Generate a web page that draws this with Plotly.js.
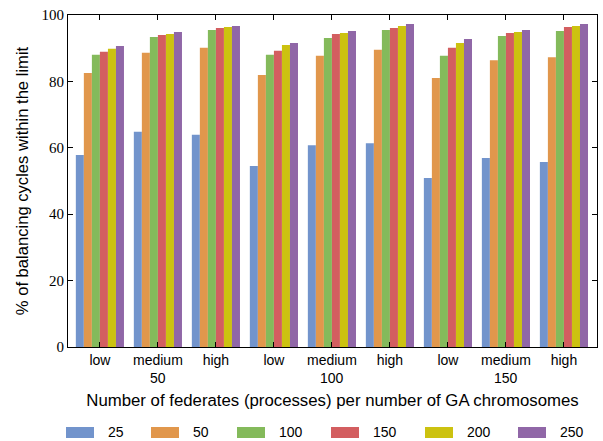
<!DOCTYPE html>
<html>
<head>
<meta charset="utf-8">
<script src="https://cdn.plot.ly/plotly-3.0.1.min.js"></script>
<style>html,body{margin:0;padding:0;background:#fff;}#chart{width:603px;height:441px;}</style>
</head>
<body>
<div id="chart"></div>
<script>
// ---- data ----
const levels = ['low', 'medium', 'high'];
const federates = ['50', '100', '150'];
const seriesNames = ['25', '50', '100', '150', '200', '250'];
const s25  = [57.8, 64.8, 63.9, 54.5, 60.8, 61.4, 50.9, 56.9, 55.7];
const s50  = [82.5, 88.6, 90.1, 81.9, 87.7, 89.5, 81.0, 86.4, 87.3];
const s100 = [88.0, 93.4, 95.5, 88.0, 93.1, 95.5, 87.7, 93.7, 95.2];
const s150 = [88.9, 94.0, 96.1, 89.2, 94.3, 96.1, 90.1, 94.6, 96.4];
const s200 = [89.8, 94.3, 96.4, 91.0, 94.6, 96.7, 91.6, 94.9, 96.7];
const s250 = [90.7, 94.9, 96.7, 91.6, 95.2, 97.3, 92.8, 95.5, 97.3];
const yTicks = [0, 20, 40, 60, 80, 100];

// ---- styles ----
const colors = ['#7294cc', '#e1974c', '#84ba5b', '#d35e60', '#ccc210', '#9067a7'];
const allSeries = [s25, s50, s100, s150, s200, s250];

const categories = [];
const tickText = [];
federates.forEach(f => levels.forEach(l => { categories.push(f + ' ' + l); tickText.push(l); }));

const traces = allSeries.map((vals, i) => ({
  type: 'bar',
  x: categories,
  y: vals,
  name: seriesNames[i],
  marker: {color: colors[i], line: {width: 0}},
  showlegend: false
}));

const sansFont = 'Liberation Sans, Arial, sans-serif';
const serifFont = 'Liberation Serif, Times New Roman, serif';

const annotations = federates.map((f, i) => ({
  x: categories[i * 3 + 1], xref: 'x', y: 0, yref: 'paper',
  yanchor: 'top', xanchor: 'center', yshift: -21,
  text: f, showarrow: false,
  font: {family: sansFont, size: 14, color: '#000'}
}));

// custom legend (wide swatches)
const legX = [66, 151, 237, 331, 425, 518];
const shapes = [];
seriesNames.forEach((n, i) => {
  shapes.push({type: 'rect', xref: 'paper', yref: 'paper',
    x0: (legX[i] - 68) / 529, x1: (legX[i] + 28 - 68) / 529,
    y0: (347 - 438) / 332, y1: (347 - 427) / 332,
    fillcolor: colors[i], line: {width: 0}});
  annotations.push({xref: 'paper', yref: 'paper',
    x: (legX[i] + 40 - 68) / 529, y: (347 - 432.5) / 332,
    xanchor: 'left', yanchor: 'middle', text: n, showarrow: false,
    font: {family: sansFont, size: 14, color: '#000'}});
});

const layout = {
  width: 603, height: 441,
  margin: {l: 68, r: 6, t: 15, b: 94},
  paper_bgcolor: '#fff', plot_bgcolor: '#fff',
  barmode: 'group', bargap: 0.17, bargroupgap: 0,
  showlegend: false,
  xaxis: {
    type: 'category', range: [-0.55, 8.57],
    tickvals: categories, ticktext: tickText,
    ticks: 'inside', ticklen: 5, tickcolor: '#000', tickwidth: 1,
    showline: true, linecolor: '#000', linewidth: 1, mirror: 'ticks',
    showgrid: false, zeroline: false,
    tickfont: {family: sansFont, size: 14, color: '#000'},
    title: {text: 'Number of federates (processes) per number of GA chromosomes',
      font: {family: sansFont, size: 16.8, color: '#000'}, standoff: 27}
  },
  yaxis: {
    range: [0, 100], tickvals: yTicks,
    ticks: 'inside', ticklen: 5, tickcolor: '#000', tickwidth: 1,
    showline: true, linecolor: '#000', linewidth: 1, mirror: 'ticks',
    showgrid: false, zeroline: false,
    tickfont: {family: serifFont, size: 15, color: '#000'},
    title: {text: '% of balancing cycles within the limit',
      font: {family: sansFont, size: 16.6, color: '#000'}, standoff: 8}
  },
  annotations: annotations,
  shapes: shapes
};

Plotly.newPlot('chart', traces, layout, {displayModeBar: false, staticPlot: true});
</script>
</body>
</html>
